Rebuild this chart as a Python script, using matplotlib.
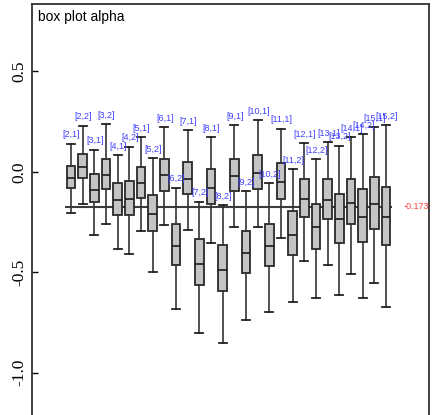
import matplotlib
matplotlib.use("Agg")
import matplotlib.pyplot as plt

# one box per [group, slot]
labels = ["[2,1]", "[2,2]", "[3,1]", "[3,2]", "[4,1]", "[4,2]", "[5,1]", "[5,2]",
          "[6,1]", "[6,2]", "[7,1]", "[7,2]", "[8,1]", "[8,2]", "[9,1]", "[9,2]",
          "[10,1]", "[10,2]", "[11,1]", "[11,2]", "[12,1]", "[12,2]", "[13,1]", "[13,2]",
          "[14,1]", "[14,2]", "[15,1]", "[15,2]"]
whislo = [-0.204, -0.162, -0.315, -0.260, -0.386, -0.409, -0.294, -0.501,
          -0.265, -0.683, -0.289, -0.804, -0.356, -0.854, -0.277, -0.738,
          -0.273, -0.697, -0.331, -0.647, -0.443, -0.630, -0.466, -0.612,
          -0.507, -0.630, -0.555, -0.672]
q1 = [-0.083, -0.033, -0.152, -0.088, -0.215, -0.215, -0.129, -0.294,
      -0.095, -0.464, -0.111, -0.562, -0.161, -0.595, -0.098, -0.505,
      -0.086, -0.469, -0.136, -0.416, -0.227, -0.385, -0.237, -0.355,
      -0.262, -0.348, -0.283, -0.366]
med = [-0.033, 0.025, -0.091, -0.016, -0.141, -0.137, -0.058, -0.212,
       -0.016, -0.368, -0.035, -0.459, -0.083, -0.491, -0.021, -0.403,
       -0.008, -0.368, -0.053, -0.313, -0.137, -0.277, -0.141, -0.237,
       -0.157, -0.224, -0.162, -0.224]
q3 = [0.028, 0.088, -0.013, 0.063, -0.056, -0.045, 0.022, -0.117,
      0.063, -0.259, 0.050, -0.336, 0.015, -0.366, 0.063, -0.295,
      0.083, -0.259, 0.042, -0.197, -0.038, -0.161, -0.038, -0.111,
      -0.038, -0.088, -0.028, -0.075]
whishi = [0.138, 0.229, 0.109, 0.237, 0.083, 0.124, 0.171, 0.067,
          0.221, -0.080, 0.207, -0.149, 0.171, -0.166, 0.232, -0.096,
          0.255, -0.058, 0.213, 0.012, 0.141, 0.062, 0.146, 0.129,
          0.171, 0.186, 0.221, 0.232]

ref_value = -0.173
ytick_vals = [0.5, 0.0, -0.5, -1.0]
ytick_text = ["0.5", "0.0", "-0.5", "-1.0"]

fig = plt.figure(figsize=(4.32, 4.15), dpi=100)
ax = fig.add_axes([32 / 432, 0, 397 / 432, 410.7 / 415])

stats = [dict(label=l, whislo=a, q1=b, med=c, q3=d, whishi=e, fliers=[])
         for l, a, b, c, d, e in zip(labels, whislo, q1, med, q3, whishi)]
positions = list(range(1, len(stats) + 1))

ax.bxp(stats, positions=positions, widths=0.75, patch_artist=True,
       showfliers=False,
       boxprops=dict(facecolor="#c4c4c4", edgecolor="#2a2a2a", linewidth=1.3),
       medianprops=dict(color="#1a1a1a", linewidth=1.2),
       whiskerprops=dict(color="#333333", linewidth=1.2),
       capprops=dict(color="#222222", linewidth=1.3), capwidths=0.7)

# reference line with its value
ax.hlines(ref_value, 0.5, len(stats) + 0.5, color="#3c3c3c", linewidth=1.5, zorder=1)
ax.text(len(stats) + 1.5, ref_value, f"{ref_value:.3f}", color="#ff3b3b",
        fontsize=6.5, family="Liberation Sans", ha="left", va="center")

# labels sit just above each upper whisker (they crowd on the right, as in the original)
for p, l, hi in zip(positions, labels, whishi):
    ax.text(p + 0.05, hi + 0.045, l, color="#3f3fff", fontsize=6.5,
            family="Liberation Sans", ha="center", va="center")

ax.text(0.015, 0.985, "box plot alpha", transform=ax.transAxes, fontsize=10,
        family="Liberation Sans", ha="left", va="top")

ax.set_xlim(-2.34, 31.68)
ax.set_ylim(-1.21, 0.833)
ax.set_xticks([])
ax.set_yticks(ytick_vals)
ax.set_yticklabels(ytick_text, family="Liberation Serif", fontsize=12.5,
                   rotation=90, va="center")
ax.tick_params(axis="y", direction="in", length=4, width=1, pad=3)
ax.spines["bottom"].set_visible(False)
for side in ["left", "top", "right"]:
    ax.spines[side].set_color("#333333")
    ax.spines[side].set_linewidth(1.3)

fig.savefig("out.png", dpi=100)
